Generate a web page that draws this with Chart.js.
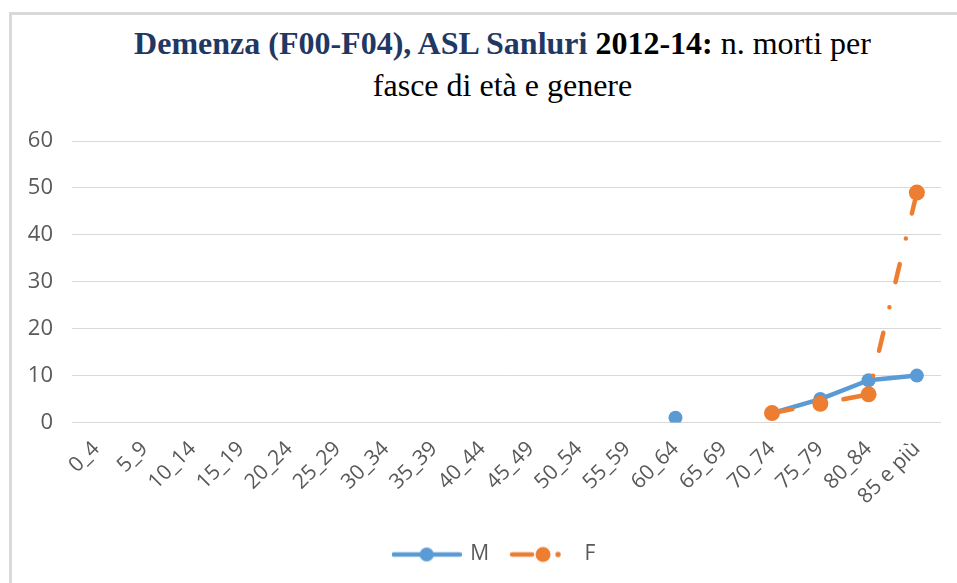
<!DOCTYPE html>
<html>
<head>
<meta charset="utf-8">
<script src="https://cdn.jsdelivr.net/npm/chart.js@4.4.1/dist/chart.umd.min.js"></script>
<style>
  html, body { margin: 0; padding: 0; background: #fff; overflow: hidden; }
  #wrap { position: relative; width: 957px; height: 583px; }
  #frame { position: absolute; left: 9px; top: 12px; right: -5px; bottom: -5px;
           border-top: 3px solid #d9d9d9; border-left: 3px solid #d9d9d9; }
  #title { position: absolute; left: 48px; width: 909px; top: 22px; text-align: center;
           font-family: "Liberation Serif", "Times New Roman", serif; font-size: 32px;
           line-height: 42px; color: #000; }
  #title .b { font-weight: bold; }
  #title .blue { color: #1f3864; }
  canvas { position: absolute; left: 0; top: 0; }
</style>
</head>
<body>
<div id="wrap">
  <div id="frame"></div>
  <div id="title"><span class="b blue">Demenza (F00-F04), ASL Sanluri</span> <span class="b">2012-14:</span> n. morti per<br>fasce di età e genere</div>
  <canvas id="c" width="957" height="583"></canvas>
</div>
<script>
const categories = ['0_4','5_9','10_14','15_19','20_24','25_29','30_34','35_39','40_44','45_49','50_54','55_59','60_64','65_69','70_74','75_79','80_84','85 e più'];
const seriesM = [null,null,null,null,null,null,null,null,null,null,null,null,1,null,2,5,9,10];
const seriesF = [null,null,null,null,null,null,null,null,null,null,null,null,null,null,2,4,6,49];
const yTicks = [0,10,20,30,40,50,60];

const BLUE = '#5b9bd5';
const ORANGE = '#ed7d31';
const GREY = '#595959';
const FONT = '"Open Sans", "Liberation Sans", sans-serif';

function sample(kind) {
  const c = document.createElement('canvas');
  c.width = 70; c.height = 18;
  const g = c.getContext('2d');
  g.lineCap = 'round';
  g.lineWidth = 4.5;
  if (kind === 'M') {
    g.strokeStyle = BLUE; g.fillStyle = BLUE;
    g.beginPath(); g.moveTo(2, 9); g.lineTo(68, 9); g.stroke();
    g.beginPath(); g.arc(35, 9, 7, 0, Math.PI * 2); g.fill();
  } else {
    g.strokeStyle = ORANGE; g.fillStyle = ORANGE;
    g.beginPath(); g.moveTo(6, 9); g.lineTo(26, 9); g.stroke();
    g.beginPath(); g.arc(37, 9, 7.5, 0, Math.PI * 2); g.fill();
    g.beginPath(); g.arc(52, 9, 2.7, 0, Math.PI * 2); g.fill();
  }
  return c;
}
const sampleM = sample('M');
const sampleF = sample('F');

const legendShift = {
  id: 'legendShift',
  afterLayout(chart) {
    if (chart.legend) { chart.legend.left += 24; chart.legend.right += 24; }
  }
};

new Chart(document.getElementById('c'), {
  type: 'line',
  data: {
    labels: categories,
    datasets: [
      { label: 'M', data: seriesM, order: 1,
        borderColor: BLUE, backgroundColor: BLUE, borderWidth: 4.5,
        pointRadius: 7, pointBorderWidth: 0, pointBackgroundColor: BLUE,
        borderCapStyle: 'round', borderJoinStyle: 'round', tension: 0, spanGaps: false },
      { label: 'F', data: seriesF, order: 0,
        borderColor: ORANGE, backgroundColor: ORANGE, borderWidth: 4.5,
        borderDash: [18.5, 26.25, 0, 25.75], borderDashOffset: -2.25,
        pointRadius: 8, pointBorderWidth: 0, pointBackgroundColor: ORANGE,
        borderCapStyle: 'round', borderJoinStyle: 'round', tension: 0, spanGaps: false }
    ]
  },
  options: {
    responsive: false,
    animation: false,
    layout: { padding: { top: 141, right: 16, bottom: 8, left: 0 } },
    plugins: {
      title: { display: false },
      tooltip: { enabled: false },
      legend: {
        display: true,
        position: 'bottom',
        labels: {
          usePointStyle: true,
          pointStyleWidth: 66,
          padding: 19,
          font: { family: FONT, size: 21 },
          color: GREY,
          generateLabels: () => [
            { text: 'M', pointStyle: sampleM, fillStyle: BLUE, strokeStyle: BLUE, lineWidth: 0, hidden: false, datasetIndex: 0, fontColor: GREY },
            { text: 'F', pointStyle: sampleF, fillStyle: ORANGE, strokeStyle: ORANGE, lineWidth: 0, hidden: false, datasetIndex: 1, fontColor: GREY }
          ]
        }
      }
    },
    scales: {
      x: {
        offset: true,
        grid: { display: false },
        border: { display: false },
        ticks: {
          autoSkip: false, minRotation: 45, maxRotation: 45, padding: 6,
          color: GREY, font: { family: FONT, size: 21 }
        },
        afterFit: s => { s.height = 102.5; }
      },
      y: {
        min: 0, max: 60,
        afterBuildTicks: s => { s.ticks = yTicks.map(v => ({ value: v })); },
        grid: { color: '#d9d9d9', lineWidth: 1, drawTicks: false },
        border: { display: false },
        ticks: { padding: 19, color: GREY, font: { family: FONT, size: 22 } },
        afterFit: s => { s.width = 72; }
      }
    }
  },
  plugins: [legendShift]
});
</script>
</body>
</html>
